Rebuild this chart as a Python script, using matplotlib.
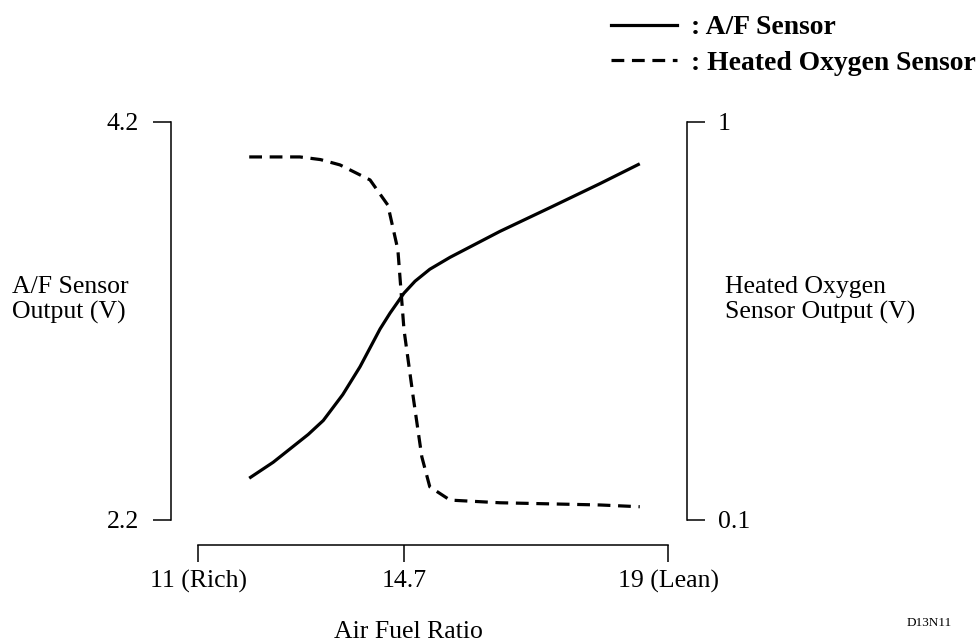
import numpy as np
import matplotlib
matplotlib.use("Agg")
import matplotlib.pyplot as plt

plt.rcParams['font.family'] = ['Liberation Serif', 'DejaVu Serif']

# air fuel ratio (x) and sensor outputs
af_x = [11.92, 12.35, 12.71, 12.98, 13.25, 13.60, 13.91, 14.27, 14.45, 14.70, 14.88, 15.12, 15.45, 16.26, 17.08, 17.89, 18.54]
af_volt = [2.41, 2.49, 2.57, 2.63, 2.70, 2.83, 2.97, 3.16, 3.24, 3.34, 3.40, 3.46, 3.52, 3.65, 3.77, 3.89, 3.99]

ho2_x = [11.92, 12.83, 13.20, 13.55, 14.09, 14.41, 14.59, 14.70, 14.85, 14.99, 15.12, 15.45, 16.26, 17.89, 18.54]
ho2_volt = [0.921, 0.921, 0.915, 0.903, 0.869, 0.812, 0.711, 0.530, 0.378, 0.243, 0.175, 0.145, 0.139, 0.134, 0.130]

x_ticks = [11, 14.7, 19]
x_labels = ['11 (Rich)', '14.7', '19 (Lean)']
left_ticks = [2.2, 4.2]
right_ticks = [0.1, 1]


# the drawing is schematic: 14.7 sits a bit left of a linear position
def fwd(x):
    x = np.asarray(x, dtype=float)
    return np.where(x < 14.7, (x - 11) * 206 / 3.7, 206 + (x - 14.7) * 264 / 4.3)


def inv(p):
    p = np.asarray(p, dtype=float)
    return np.where(p < 206, 11 + p * 3.7 / 206, 14.7 + (p - 206) * 4.3 / 264)


W, H = 977, 642
fig = plt.figure(figsize=(W / 100, H / 100), dpi=100)
ax = fig.add_axes([171 / W, 1 - 520 / H, (687 - 171) / W, (520 - 122) / H])
ax2 = ax.twinx()

ax.set_xscale('function', functions=(fwd, inv))
ax.set_xlim(inv(171 - 198), inv(687 - 198))
ax.set_ylim(2.2, 4.2)
ax2.set_ylim(0.1, 1)

ax.plot(af_x, af_volt, color='black', lw=2.3, solid_capstyle='butt', solid_joinstyle='round')
ax2.plot(ho2_x, ho2_volt, color='black', lw=2.3, linestyle=(0, (4, 2.4)))

for a in (ax, ax2):
    a.spines['top'].set_visible(False)
    for s in a.spines.values():
        s.set_linewidth(1.1)
ax.spines['right'].set_visible(False)
ax2.spines['left'].set_visible(False)
ax2.spines['bottom'].set_visible(False)

ax.spines['bottom'].set_position(('outward', 18))
ax.spines['bottom'].set_bounds(11, 19)
ax.set_xticks(x_ticks)
ax.set_xticklabels(x_labels)
ax.tick_params(axis='x', direction='out', length=12, width=1.1, pad=6, labelsize=18.5)
ax.minorticks_off()

ax.set_yticks(left_ticks)
ax.set_yticklabels(['2.2', '4.2'])
ax.tick_params(axis='y', direction='out', length=13, width=1.1, pad=10, labelsize=18.5)
ax2.set_yticks(right_ticks)
ax2.set_yticklabels(['0.1', '1'])
ax2.tick_params(axis='y', direction='out', length=13, width=1.1, pad=9, labelsize=18.5)

fig.text(12 / W, 1 - 300 / H, 'A/F Sensor\nOutput (V)', fontsize=18.5,
         ha='left', va='center', linespacing=1.12)
fig.text(725 / W, 1 - 300 / H, 'Heated Oxygen\nSensor Output (V)', fontsize=18.5,
         ha='left', va='center', linespacing=1.12)
fig.text(408 / W, 1 - 632 / H, 'Air Fuel Ratio', fontsize=18.5, ha='center', va='center')
fig.text(907 / W, 1 - 623 / H, 'D13N11', fontsize=9.5, ha='left', va='center')

h1, = ax.plot([], [], color='black', lw=2.3)
h2, = ax.plot([], [], color='black', lw=2.3, linestyle=(0, (4, 2.4)))
fig.legend([h1, h2], [': A/F Sensor', ': Heated Oxygen Sensor'],
           loc='upper right', bbox_to_anchor=(976 / W, 1 - 15 / H),
           frameon=False, borderpad=0, borderaxespad=0, handlelength=2.4,
           handletextpad=0.5, labelspacing=0.36,
           prop={'weight': 'bold', 'size': 19.9})

fig.savefig('out.png', dpi=100)
